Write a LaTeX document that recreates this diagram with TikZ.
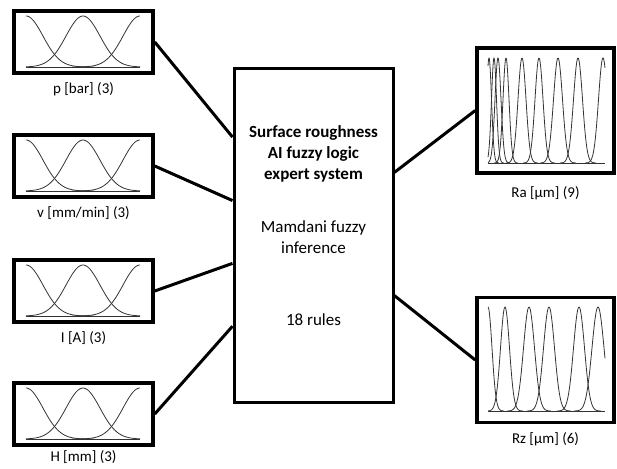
\documentclass[tikz,border=0pt]{standalone}
\usepackage{fontspec}
\setmainfont{Carlito}
\usetikzlibrary{positioning,calc}

\begin{document}
\begin{tikzpicture}[
    x=1pt, y=-1pt,
    inbox/.style={rectangle, draw=black, line width=3.5pt, minimum width=139pt, minimum height=62pt, inner sep=0pt},
    outbox/.style={rectangle, draw=black, line width=3.5pt, minimum width=137pt, minimum height=125pt, inner sep=0pt},
    sysbox/.style={rectangle, draw=black, line width=3pt, minimum width=159pt, minimum height=333pt, inner sep=0pt},
    varlabel/.style={font=\fontsize{15}{18}\selectfont, inner sep=2pt},
    systext/.style={font=\fontsize{17}{21}\selectfont, align=center, inner sep=0pt},
    conn/.style={line width=3pt},
    mf/.style={draw=black!80, line width=0.8pt}
]
\useasboundingbox (0,0) rectangle (617,468);

% Inputs
\node [inbox] (p) at (83.5,42) {};
\node [inbox] (v) at (83.5,166) {};
\node [inbox] (i) at (83.5,291) {};
\node [inbox] (h) at (83.5,414) {};
\node [varlabel, below=6pt of p] (plabel) {p [bar] (3)};
\node [varlabel, below=6pt of v] (vlabel) {v [mm/min] (3)};
\node [varlabel, below=6pt of i] (ilabel) {I [A] (3)};
\node [varlabel, below=2pt of h] (hlabel) {H [mm] (3)};

% Expert system
\node [sysbox] (sys) at (313.5,235.5) {};
\node [systext, font=\fontsize{17}{21}\selectfont\bfseries] (title) at (313.5,154) {Surface roughness\\AI fuzzy logic\\expert system};
\node [systext] (infer) at (313.5,237) {Mamdani fuzzy\\inference};
\node [systext] (rules) at (313.5,320) {18 rules};

% Outputs
\node [outbox] (ra) at (545.5,110.5) {};
\node [outbox] (rz) at (545.5,360) {};
\node [varlabel, below=10pt of ra] (ralabel) {Ra [µm] (9)};
\node [varlabel, below=6pt of rz] (rzlabel) {Rz [µm] (6)};

% Connectors
\draw [conn] (p.east) -- ($(sys.north west)!0.207!(sys.south west)$);
\draw [conn] (v.east) -- ($(sys.north west)!0.396!(sys.south west)$);
\draw [conn] (i.east) -- ($(sys.north west)!0.583!(sys.south west)$);
\draw [conn] (h.east) -- ($(sys.north west)!0.77!(sys.south west)$);
\draw [conn] ($(sys.north east)!0.312!(sys.south east)$) -- (ra.west);
\draw [conn] ($(sys.north east)!0.679!(sys.south east)$) -- (rz.west);

% Input membership functions
\foreach \yc in {42,166,291,414} {
  \foreach \c in {26,83,140} {
    \pgfmathsetmacro{\lo}{max(26,\c-68)}
    \pgfmathsetmacro{\hi}{min(140,\c+68)}
    \draw [mf] plot[domain=\lo:\hi, samples=60, smooth] (\x, {\yc+25-51*exp(-0.5*((\x-\c)/17)^2)});
  }
  \draw [mf] (26,\yc+25) -- (140,\yc+25);
}

% Ra membership functions
\foreach \c/\s in {489/2.5, 494/2.5, 498/3, 506/3, 522/4, 539/4, 558/4.5, 578/4.5, 603/4.5} {
  \pgfmathsetmacro{\lo}{max(488,\c-4*\s)}
  \pgfmathsetmacro{\hi}{min(605,\c+4*\s)}
  \draw [mf] plot[domain=\lo:\hi, samples=50, smooth] (\x, {163-105*exp(-0.5*((\x-\c)/\s)^2)});
}
\draw [mf] (488,163) -- (605,163);

% Rz membership functions
\foreach \c/\s in {488/4, 505/4.5, 529/5.5, 549/5.5, 579/5.5, 598/6} {
  \pgfmathsetmacro{\lo}{max(488,\c-4*\s)}
  \pgfmathsetmacro{\hi}{min(605,\c+4*\s)}
  \draw [mf] plot[domain=\lo:\hi, samples=50, smooth] (\x, {411-104*exp(-0.5*((\x-\c)/\s)^2)});
}
\draw [mf] (488,411) -- (605,411);

\end{tikzpicture}
\end{document}
